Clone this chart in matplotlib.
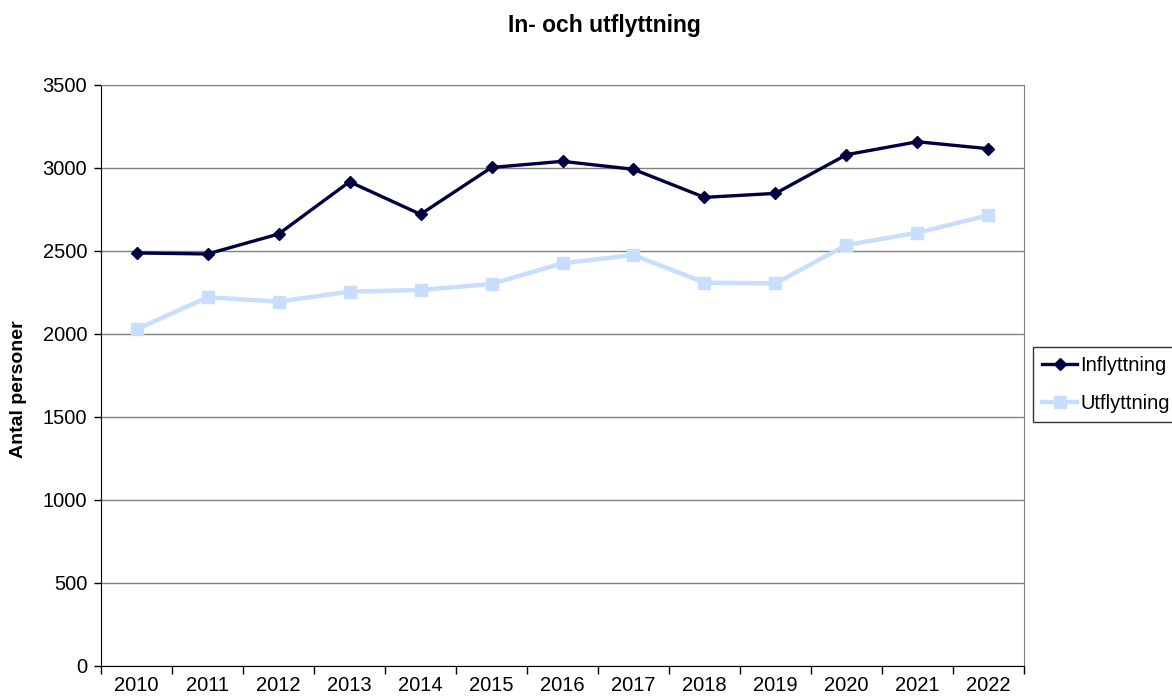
import matplotlib
matplotlib.use('Agg')
import matplotlib.pyplot as plt
from matplotlib.ticker import FixedLocator

plt.rcParams['font.family'] = ['Liberation Sans', 'DejaVu Sans']

years = ['2010', '2011', '2012', '2013', '2014', '2015', '2016',
         '2017', '2018', '2019', '2020', '2021', '2022']
inflyttning = [2488, 2482, 2602, 2917, 2721, 3003, 3040,
               2992, 2823, 2847, 3080, 3158, 3116]
utflyttning = [2028, 2221, 2195, 2255, 2265, 2301, 2426,
               2476, 2309, 2305, 2536, 2610, 2715]
yticks = [0, 500, 1000, 1500, 2000, 2500, 3000, 3500]

fig = plt.figure(figsize=(11.72, 7), dpi=100)
ax = fig.add_axes([0.0862, 0.0486, 0.7875, 0.83])

x = list(range(len(years)))
ax.plot(x, inflyttning, color='#000040', lw=2.4, marker='D', ms=6.5,
        label='Inflyttning', zorder=4)
ax.plot(x, utflyttning, color='#c8deff', lw=3.2, marker='s', ms=9,
        label='Utflyttning', zorder=3)

ax.set_xlim(-0.5, len(years) - 0.5)
ax.set_ylim(0, 3500)
ax.set_yticks(yticks)
ax.yaxis.grid(True, color='#808080', lw=1)
ax.set_axisbelow(True)

# category axis: ticks between categories, labels centered
ax.xaxis.set_major_locator(FixedLocator([i - 0.5 for i in range(len(years) + 1)]))
ax.xaxis.set_minor_locator(FixedLocator(x))
ax.set_xticklabels([''] * (len(years) + 1))
ax.set_xticklabels(years, minor=True)
ax.tick_params(axis='x', which='major', length=6, width=1, direction='out')
ax.tick_params(axis='x', which='minor', length=0, pad=7, labelsize=14.5)
ax.tick_params(axis='y', length=5, width=1, labelsize=14.5, pad=5)

for s in ['top', 'right']:
    ax.spines[s].set_color('#808080')
for s in ['left', 'bottom']:
    ax.spines[s].set_color('black')

ax.set_ylabel('Antal personer', fontsize=14, fontweight='bold')
ax.yaxis.set_label_coords(-0.0802, 0.477)
fig.text(0.5157, 0.964, 'In- och utflyttning', fontsize=16.5,
         fontweight='bold', ha='center', va='center')

leg = ax.legend(loc='upper left', bbox_to_anchor=(1033 / 1172, 1 - 347 / 700),
                bbox_transform=fig.transFigure, fontsize=14.5, frameon=True,
                fancybox=False, edgecolor='black', handlelength=1.75,
                handletextpad=0.15, borderpad=0.45, labelspacing=0.95,
                borderaxespad=0)
leg.get_frame().set_linewidth(1)

fig.savefig('out.png', dpi=100)
